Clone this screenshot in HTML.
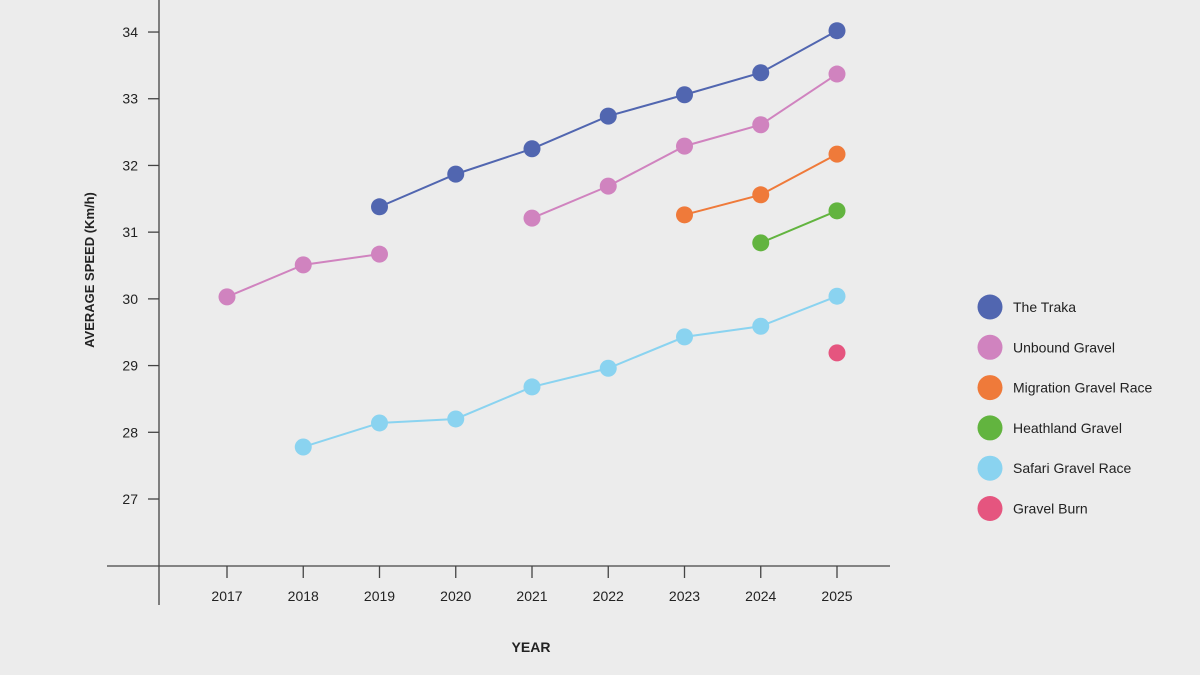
<!DOCTYPE html>
<html><head><meta charset="utf-8"><style>
body{margin:0;background:#ececec;}
svg{display:block;font-family:"Liberation Sans",Arial,sans-serif;}
</style></head><body>
<svg id="chart" width="1200" height="675" viewBox="0 0 1200 675">
<rect width="1200" height="675" fill="#ececec"/>
<g id="axes"></g>
<g id="series"></g>
<g id="legend"></g>
<text x="531" y="652" text-anchor="middle" font-size="14" font-weight="bold" fill="#222">YEAR</text>
<text transform="translate(94,270) rotate(-90)" text-anchor="middle" font-size="13" font-weight="bold" fill="#222">AVERAGE SPEED (Km/h)</text>
</svg>
<script>
const years = [2017,2018,2019,2020,2021,2022,2023,2024,2025];
const yTicks = [27,28,29,30,31,32,33,34];
const seriesNames = ["The Traka","Unbound Gravel","Migration Gravel Race","Heathland Gravel","Safari Gravel Race","Gravel Burn"];
const seriesColors = ["#5166b0","#d083bf","#ef7a3a","#62b43f","#8ad3f0","#e5557f"];
const trakaValues = [null,null,31.38,31.87,32.25,32.74,33.06,33.39,34.02];
const unboundValues = [30.03,30.51,30.67,null,31.21,31.69,32.29,32.61,33.37];
const migrationValues = [null,null,null,null,null,null,31.26,31.56,32.17];
const heathlandValues = [null,null,null,null,null,null,null,30.84,31.32];
const safariValues = [null,27.78,28.14,28.20,28.68,28.96,29.43,29.59,30.04];
const burnValues = [null,null,null,null,null,null,null,null,29.19];
const allValues = [trakaValues,unboundValues,migrationValues,heathlandValues,safariValues,burnValues];

const NS="http://www.w3.org/2000/svg";
function xPos(i){return 227+i*76.25;}
function yPos(v){return 499-(v-27)*66.71;}
function mk(tag,attrs,parent){const e=document.createElementNS(NS,tag);for(const k in attrs)e.setAttribute(k,attrs[k]);parent.appendChild(e);return e;}
const axes=document.getElementById('axes');
let e;
e=mk('line',{x1:159,y1:0,x2:159,y2:605,stroke:'#444','stroke-width':1.3},axes);


e=mk('line',{x1:107,y1:566,x2:890,y2:566,stroke:'#444','stroke-width':1.3},axes);


yTicks.forEach(t=>{
  const y=yPos(t);
  let l=mk('line',{x1:148,y1:y,x2:159,y2:y,stroke:'#444','stroke-width':1.3},axes);
  
  
  let tx=mk('text',{x:138,y:y+5,'text-anchor':'end','font-size':14,fill:'#222'},axes);
  tx.textContent=t;
  
  
});
years.forEach((yr,i)=>{
  const x=xPos(i);
  let l=mk('line',{x1:x,y1:566,x2:x,y2:578,stroke:'#444','stroke-width':1.3},axes);
  
  
  let tx=mk('text',{x:x,y:601,'text-anchor':'middle','font-size':14,fill:'#222'},axes);
  tx.textContent=yr;
  
  
});
const sg=document.getElementById('series');
allValues.forEach((vals,s)=>{
  const g=mk('g',{},sg);
  
  
  let seg=[];
  const flush=()=>{if(seg.length>1){const p=mk('polyline',{points:seg.join(' '),fill:'none',stroke:seriesColors[s],'stroke-width':2},g);
    
    }seg=[];};
  vals.forEach((v,i)=>{if(v==null){flush();}else seg.push(xPos(i)+','+yPos(v));});
  flush();
  vals.forEach((v,i)=>{if(v==null)return;
    const c=mk('circle',{cx:xPos(i),cy:yPos(v),r:8.5,fill:seriesColors[s]},g);
    
    
  });
});
const lg=document.getElementById('legend');
seriesNames.forEach((n,i)=>{
  const y=307+i*40.3;
  const g=mk('g',{},lg);
  
  
  mk('circle',{cx:990,cy:y,r:12.5,fill:seriesColors[i]},g);
  const t=mk('text',{x:1013,y:y+5,'font-size':14,fill:'#222'},g);
  t.textContent=n;
});
</script>
</body></html>
